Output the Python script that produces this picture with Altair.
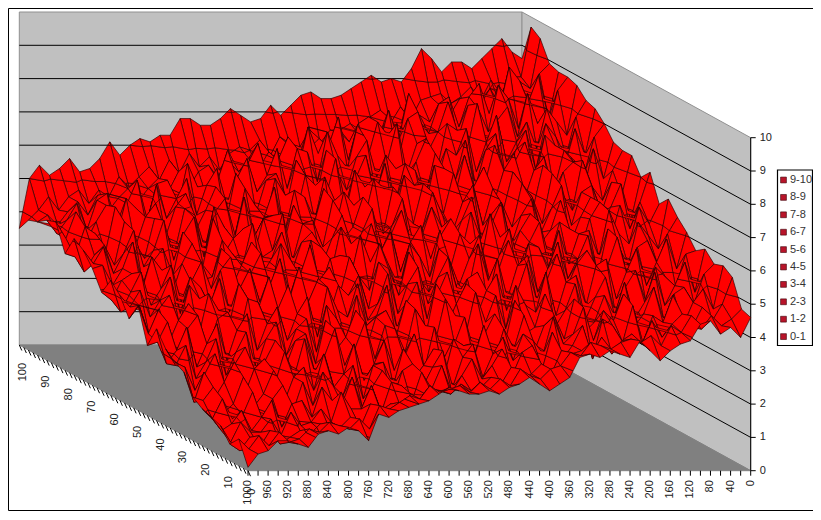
import altair as alt
import pandas as pd

# heights z, rows v = 100, 96 ... 0, columns u = 0, 20 ... 1000
Z = [
[8.6,8.8,9.2,8.9,8.6,8.3,8.5,8.5,8.2,8.6,8.9,8.3,7.9,8.0,7.9,8.1,7.9,7.7,7.5,7.4,7.4,7.6,7.5,7.2,6.9,7.2,6.8,6.7,6.9,7.1,6.8,6.6,6.6,6.8,6.8,6.3,6.3,6.1,6.2,6.0,5.7,6.1,5.6,5.3,5.2,5.6,5.3,5.1,5.4,5.0,3.5],
[9.7,8.2,8.2,7.7,8.1,7.5,7.9,7.6,7.4,7.7,7.6,7.5,6.9,7.3,6.8,7.2,7.0,6.6,6.8,6.6,6.6,6.2,6.6,6.1,6.2,6.4,5.8,6.3,6.0,6.1,5.9,5.4,5.8,5.5,5.9,5.3,5.7,5.1,5.5,5.2,4.9,5.2,4.6,4.8,4.4,4.8,4.6,4.2,4.6,4.2,3.9],
[9.5,8.0,8.2,7.9,7.5,8.0,7.5,7.3,7.7,7.2,7.5,7.0,7.2,7.1,6.7,7.1,6.6,6.9,6.6,6.4,6.7,6.2,6.5,6.2,5.9,6.3,5.8,6.1,5.6,5.9,5.5,5.8,5.3,5.7,5.5,5.0,5.5,4.9,5.3,5.0,4.6,5.0,4.7,4.3,4.8,4.2,4.6,4.3,3.9,4.2,4.0],
[8.9,8.6,7.6,8.4,8.8,7.5,7.4,8.3,7.9,7.0,7.9,7.7,6.8,7.2,8.0,6.6,7.5,6.4,7.3,7.1,6.0,7.3,6.4,6.2,7.0,5.7,6.7,6.0,5.4,6.5,5.9,5.0,6.3,5.4,4.8,5.2,5.9,4.5,5.4,5.3,4.2,5.4,4.7,4.1,5.0,4.8,3.9,4.7,4.2,3.8,4.2],
[8.8,7.4,8.7,7.9,7.1,8.0,8.4,7.0,7.7,7.8,6.8,7.9,7.0,6.4,7.6,7.4,6.1,6.9,7.3,6.2,7.2,5.9,6.3,7.0,5.5,6.4,6.5,5.3,6.5,5.7,5.2,6.2,5.6,4.8,5.9,5.4,4.5,5.6,5.0,4.4,5.4,4.2,4.7,5.0,3.8,4.8,4.3,3.7,4.6,3.8,4.3],
[8.8,8.4,7.2,7.4,8.3,7.0,7.9,7.5,6.6,8.0,6.6,7.2,7.4,6.0,6.9,6.8,5.9,7.4,6.2,5.8,6.9,6.4,5.4,6.0,6.6,5.2,5.8,6.3,4.9,5.9,5.7,4.7,5.3,5.9,4.4,5.5,4.8,4.2,5.3,4.9,4.0,5.0,4.6,3.7,4.2,4.9,3.5,4.1,4.3,3.4,3.5],
[8.7,7.2,7.6,8.0,6.8,7.6,7.0,6.4,7.8,7.0,6.1,7.4,6.6,6.8,5.7,7.1,6.4,5.7,6.2,6.6,5.4,6.6,5.9,5.1,6.5,5.3,5.7,6.0,4.7,5.4,5.9,4.6,5.1,5.6,4.2,5.3,4.9,3.8,4.8,5.0,3.7,4.4,4.7,3.5,4.0,4.6,3.3,3.9,3.6,3.1,4.1],
[8.4,7.9,6.7,7.3,7.7,6.3,7.5,6.9,6.0,7.4,6.9,5.8,7.2,6.0,6.1,6.8,5.5,6.3,6.5,5.3,6.5,5.5,5.8,6.3,4.9,5.4,6.1,4.8,5.5,5.7,4.4,5.8,4.9,4.3,5.5,4.2,4.6,5.2,3.7,4.9,4.4,3.6,4.8,3.9,3.4,4.5,3.8,3.2,4.0,3.5,3.9],
[8.3,6.9,7.7,6.6,7.2,7.5,6.1,7.3,6.7,5.9,7.2,6.0,5.9,6.9,5.6,6.5,6.6,5.2,6.0,6.3,5.0,5.9,6.2,4.9,5.4,5.8,4.5,5.9,4.8,4.6,5.4,4.2,5.1,5.0,3.8,4.7,4.4,3.9,5.0,3.6,3.9,4.6,3.3,4.1,3.7,3.0,4.3,3.5,3.0,3.6,3.5],
[8.0,7.6,6.5,6.9,7.2,6.0,7.0,6.6,5.7,7.1,6.6,5.6,6.7,6.1,5.4,6.5,5.3,5.7,6.2,5.0,5.3,6.1,4.7,5.2,5.8,4.9,4.5,5.7,4.3,5.1,5.0,3.9,5.3,4.2,4.0,5.0,3.7,4.1,4.5,3.4,3.3,4.4,3.8,2.9,3.6,4.0,3.0,3.5,3.3,2.7,2.94],
[7.6,6.5,7.4,6.1,7.0,6.7,5.8,6.9,5.6,6.3,6.7,5.5,6.2,5.1,6.3,5.8,4.9,5.4,6.1,5.0,4.7,5.9,5.1,4.4,5.6,4.9,4.2,5.4,4.7,3.9,4.9,4.6,3.7,4.9,4.1,3.6,4.6,3.9,3.2,4.4,3.2,4.0,3.4,2.8,3.9,3.2,2.7,3.7,3.1,2.5,3.45],
[7.5,6.9,6.0,6.4,7.2,5.7,6.2,6.8,5.3,6.1,6.5,5.2,5.9,5.6,4.7,6.1,5.4,4.6,5.2,5.8,4.9,4.4,5.7,5.0,4.1,5.3,4.3,4.7,5.2,3.8,4.6,4.8,3.5,4.2,4.7,3.3,4.4,3.8,3.1,4.3,3.9,2.8,3.4,3.7,2.6,3.7,3.0,2.5,3.3,2.8,3.15],
[7.5,6.3,6.7,5.8,6.6,6.4,5.4,6.6,5.9,5.2,6.2,5.7,4.8,6.1,5.4,5.0,5.8,4.5,5.6,5.1,4.4,5.4,4.9,4.0,5.2,4.6,4.3,5.1,3.8,4.5,4.4,3.5,4.8,3.9,3.3,4.4,3.6,3.1,4.1,3.5,2.8,3.8,3.0,3.2,3.6,2.4,3.3,2.9,2.1,3.0,2.6],
[7.0,5.7,6.8,6.1,5.5,6.4,5.8,5.0,6.3,5.4,5.0,5.9,5.4,4.6,5.2,5.9,4.3,5.0,5.3,4.2,5.4,4.0,4.6,5.0,3.7,4.3,5.0,3.6,4.0,4.6,3.4,4.3,3.9,3.0,4.3,3.3,2.8,4.0,3.1,3.3,3.8,2.5,3.0,3.5,2.2,3.2,2.7,2.0,3.0,2.3,3.15],
[7.3,6.4,5.6,6.3,5.2,6.4,5.9,4.9,5.6,5.8,4.7,5.8,5.2,4.5,5.6,4.8,4.1,5.4,4.7,3.9,4.7,5.0,3.7,4.1,4.9,3.6,4.4,4.6,3.2,4.2,3.6,3.9,2.9,4.1,3.4,2.7,3.9,3.2,2.7,3.4,3.5,2.2,3.1,2.9,2.0,3.0,2.6,1.8,2.8,2.2,2.1],
[6.5,5.9,6.4,5.3,5.6,6.3,4.9,5.7,5.6,4.7,5.7,4.6,5.2,5.3,4.1,5.4,4.5,4.2,5.3,3.9,3.8,4.9,4.3,3.5,4.6,4.1,3.2,4.4,3.5,3.0,4.1,3.1,3.3,4.0,2.5,3.7,3.2,2.4,3.4,2.9,2.1,3.2,2.7,1.8,2.9,2.3,1.6,2.8,2.1,1.7,2.75],
[6.8,5.3,5.7,6.1,4.8,5.4,5.9,4.5,5.7,5.0,4.4,5.5,4.7,4.0,5.1,4.8,3.8,5.0,3.7,4.6,4.4,3.4,4.6,3.9,3.2,4.3,3.7,2.9,4.2,3.3,3.0,3.9,2.5,3.2,3.6,2.2,3.2,2.9,2.1,3.1,2.6,1.7,2.8,2.2,1.5,2.6,1.9,1.4,2.4,1.8,2.3],
[6.4,5.9,5.0,5.7,5.5,4.7,5.8,4.9,4.5,5.4,5.0,4.3,5.3,4.5,3.9,5.0,4.1,3.6,4.7,4.2,3.4,4.4,3.8,3.1,4.4,2.9,3.6,3.9,2.8,3.6,3.4,2.4,3.6,2.8,2.4,3.3,2.0,2.9,2.7,1.9,2.7,2.1,1.4,2.5,2.0,1.3,2.3,1.7,1.2,1.9,2.05],
[6.1,5.0,5.9,5.2,4.5,5.6,4.9,4.1,5.3,5.1,3.9,4.8,4.6,3.6,4.9,3.7,3.9,4.5,3.2,4.2,3.4,4.3,3.0,3.6,4.1,2.8,3.3,3.8,2.5,3.2,3.3,2.3,3.4,2.6,2.1,3.2,2.4,1.9,2.9,1.8,2.5,1.5,2.3,2.0,1.2,2.2,1.6,1.1,1.9,1.0,1.9],
[5.7,5.6,4.6,4.9,5.2,4.2,5.1,4.6,3.8,4.9,4.3,3.6,4.7,3.9,3.4,4.4,3.4,3.2,4.2,2.9,3.8,3.2,2.6,3.7,2.9,2.5,3.4,2.1,3.2,2.5,2.1,3.0,2.3,1.8,2.9,2.0,1.6,2.6,1.5,2.2,1.9,1.1,2.1,1.4,1.0,1.9,1.1,0.8,1.6,1.2,1.3],
[5.9,4.6,5.5,4.8,4.2,5.2,4.3,3.8,4.9,3.9,4.5,3.7,3.4,4.4,3.2,3.9,3.6,2.8,3.9,2.9,3.5,2.5,3.6,2.6,3.0,3.2,2.0,2.9,2.4,2.0,2.9,1.8,2.5,2.4,1.4,2.4,1.5,1.8,2.2,1.2,1.9,1.0,1.8,1.4,0.7,1.6,0.9,0.8,1.4,0.8,1.1],
[5.6,5.3,4.4,4.9,4.7,3.9,4.9,4.1,3.7,4.7,3.9,4.2,3.3,4.3,3.5,3.2,4.0,2.9,3.3,3.5,2.7,3.4,2.9,2.2,3.2,2.8,1.9,3.0,2.5,1.9,2.6,2.4,1.5,2.4,1.9,1.3,2.2,1.4,1.5,1.9,1.0,1.5,1.4,0.7,1.5,1.0,0.6,1.2,0.8,0.6,1.0],
[5.7,4.4,5.0,4.6,3.9,4.8,4.0,4.2,3.4,4.5,3.4,3.9,4.1,2.9,3.9,3.3,2.9,3.7,2.6,3.3,3.1,2.4,3.2,2.7,2.3,2.9,2.4,1.9,2.7,2.0,2.5,1.6,2.1,2.2,1.3,2.1,1.4,1.4,1.9,1.0,1.4,1.0,0.9,1.3,0.6,1.1,0.7,0.7,1.0,0.4,0.9],
[5.5,4.7,4.2,4.6,4.0,4.4,4.1,3.7,4.2,3.5,3.8,3.6,3.2,3.7,3.2,3.3,3.2,3.3,2.6,2.9,2.6,2.4,2.8,2.3,2.5,2.2,2.1,2.3,2.0,2.1,2.1,1.9,2.0,1.6,1.7,1.5,1.7,1.0,1.3,1.0,0.9,1.1,0.8,0.9,0.7,0.5,0.9,0.4,0.7,0.3,0.5],
[4.7,4.4,4.2,4.5,4.1,4.5,4.0,4.2,3.6,3.9,3.7,3.8,3.7,3.5,3.6,3.7,3.3,3.4,3.0,2.9,2.6,2.7,2.9,2.4,2.6,2.3,2.5,2.2,2.4,2.3,2.2,2.4,2.0,2.1,1.9,1.7,1.8,1.1,1.4,1.1,1.2,1.3,1.0,1.1,0.8,0.7,1.0,0.6,0.9,0.5,0.8],
[4.6,4.0,4.3,4.1,4.5,4.4,3.9,3.8,3.6,3.3,3.6,3.9,3.4,3.5,3.6,3.4,3.5,3.4,2.8,2.6,2.4,2.6,2.8,2.6,2.5,2.3,2.4,2.3,2.3,2.4,2.5,2.3,2.1,2.0,1.9,1.8,1.6,1.7,0.9,1.2,1.3,1.1,1.2,1.1,0.7,0.8,0.9,0.9,0.6,0.5,0.1],
]
for r in Z:
    assert len(r) == 51, len(r)
assert len(Z) == 26

U = [20 * i for i in range(51)]
V = [100 - 4 * i for i in range(26)]
X_LABELS = list(range(0, 1001, 40))
DEPTH_LABELS = list(range(10, 101, 10))
Z_LEVELS = list(range(0, 11))
LEGEND = ["9-10", "8-9", "7-8", "6-7", "5-6", "4-5", "3-4", "2-3", "1-2", "0-1"]

SX = "750.7 - 0.5027*datum.u - 2.287*datum.v"
SY = "470.7 - 1.257*datum.v - 33.3*datum.z"
H = 503
W = 805

xs = alt.Scale(domain=[8, 8 + W], range=[0, W], nice=False, zero=False)
ys = alt.Scale(domain=[8, 8 + H], range=[0, H], nice=False, zero=False)
X = alt.X("sx:Q", scale=xs, axis=None)
Y = alt.Y("sy:Q", scale=ys, axis=None)
X2 = alt.X2("sx2:Q")
Y2 = alt.Y2("sy2:Q")


def projected(rows):
    return alt.Chart(alt.Data(values=rows)).transform_calculate(sx=SX, sy=SY)


def clip_band(poly, lo, hi):
    """Part of a cell between two value levels, cut along the cell's edges."""
    def clip(points, level, keep_above):
        out = []
        n = len(points)
        for i in range(n):
            a, b = points[i], points[(i + 1) % n]
            ina = a[2] >= level if keep_above else a[2] <= level
            inb = b[2] >= level if keep_above else b[2] <= level
            if ina:
                out.append(a)
            if ina != inb:
                t = (level - a[2]) / (b[2] - a[2])
                out.append((a[0] + t * (b[0] - a[0]), a[1] + t * (b[1] - a[1]), level))
        return out
    p = clip(poly, lo, True)
    if p:
        p = clip(p, hi, False)
    return p


# walls and floor
walls = [
    {"p": "back", "o": 0, "u": 1000, "v": 100, "z": 0},
    {"p": "back", "o": 1, "u": 1000, "v": 100, "z": 10},
    {"p": "back", "o": 2, "u": 0, "v": 100, "z": 10},
    {"p": "back", "o": 3, "u": 0, "v": 100, "z": 0},
    {"p": "side", "o": 0, "u": 0, "v": 100, "z": 0},
    {"p": "side", "o": 1, "u": 0, "v": 100, "z": 10},
    {"p": "side", "o": 2, "u": 0, "v": 0, "z": 10},
    {"p": "side", "o": 3, "u": 0, "v": 0, "z": 0},
]
floor = [
    {"p": "floor", "o": 0, "u": 1000, "v": 100, "z": 0},
    {"p": "floor", "o": 1, "u": 0, "v": 100, "z": 0},
    {"p": "floor", "o": 2, "u": 0, "v": 0, "z": 0},
    {"p": "floor", "o": 3, "u": 1000, "v": 0, "z": 0},
]
wall_layer = projected(walls).mark_line(
    interpolate="linear-closed", fill="#C0C0C0", stroke="#909090", strokeWidth=1
).encode(x=X, y=Y, detail="p:N", order="o:Q")
floor_layer = projected(floor).mark_line(
    interpolate="linear-closed", fill="#808080", stroke="#808080", strokeWidth=1
).encode(x=X, y=Y, detail="p:N", order="o:Q")

# grid lines along the two walls
grid = []
for k in Z_LEVELS[1:10]:
    grid += [
        {"k": k, "o": 0, "u": 1000, "v": 100, "z": k},
        {"k": k, "o": 1, "u": 0, "v": 100, "z": k},
        {"k": k, "o": 2, "u": 0, "v": 0, "z": k},
    ]
grid_layer = projected(grid).mark_line(stroke="#000000", strokeWidth=1).encode(
    x=X, y=Y, detail="k:N", order="o:Q"
)

# value axis
z_rows = [{"u": 0, "v": 0, "z": k} for k in Z_LEVELS]
z_axis = projected([{"o": 0, "u": 0, "v": 0, "z": 0}, {"o": 1, "u": 0, "v": 0, "z": 10}]).mark_line(
    stroke="#000000", strokeWidth=1).encode(x=X, y=Y, order="o:Q")
z_ticks = projected(z_rows).transform_calculate(sx2="datum.sx+5", sy2="datum.sy").mark_rule(
    stroke="#000000", strokeWidth=1).encode(x=X, y=Y, x2=X2, y2=Y2)
z_text = projected([{"u": 0, "v": 0, "z": k, "t": str(k)} for k in Z_LEVELS]).transform_calculate(
    tx="datum.sx+9").mark_text(align="left", baseline="middle", font="Liberation Sans", fontSize=11,
                               color="#222222").encode(
    x=alt.X("tx:Q", scale=xs, axis=None), y=Y, text="t:N")

# front axis
x_ticks = projected([{"u": u, "v": 0, "z": 0} for u in U]).transform_calculate(
    sx2="datum.sx", sy2="datum.sy+5").mark_rule(stroke="#000000", strokeWidth=1).encode(x=X, y=Y, x2=X2, y2=Y2)
x_text = projected([{"u": u, "v": 0, "z": 0, "t": str(u)} for u in X_LABELS]).transform_calculate(
    ty="datum.sy+9.5").mark_text(angle=270, align="right", baseline="middle", font="Liberation Sans",
                                 fontSize=11, color="#222222").encode(
    x=X, y=alt.Y("ty:Q", scale=ys, axis=None), text="t:N")

# depth axis
d_ticks = projected([{"u": 1000, "v": 2 * i, "z": 0} for i in range(51)]).transform_calculate(
    sx2="datum.sx+2.5", sy2="datum.sy+5.5").mark_rule(stroke="#000000", strokeWidth=1).encode(x=X, y=Y, x2=X2, y2=Y2)
d_text = projected([{"u": 1000, "v": v, "z": 0, "t": str(v)} for v in DEPTH_LABELS + [0]]).transform_calculate(
    tx="datum.sx+4", ty="datum.sy+18").mark_text(angle=270, align="right", baseline="middle", font="Liberation Sans",
                                                  fontSize=11, color="#222222").encode(
    x=alt.X("tx:Q", scale=xs, axis=None), y=alt.Y("ty:Q", scale=ys, axis=None), text="t:N")

# surface, far cells first, each cell cut into its value bands
cells = []
cid = 0
for r in range(25):
    for c in range(50):
        quad = [(U[cc], V[rr], Z[rr][cc]) for rr, cc in [(r, c), (r, c + 1), (r + 1, c + 1), (r + 1, c)]]
        for k in Z_LEVELS[:-1]:
            part = clip_band(quad, k, k + 1)
            if len(part) >= 3:
                for o, (u, v, z) in enumerate(part):
                    cells.append({"cid": cid, "o": o, "u": round(u, 2), "v": round(v, 3), "z": round(z, 3)})
                cid += 1
surface = projected(cells).mark_line(
    interpolate="linear-closed", fill="#FF0000", stroke="#2a0000", strokeWidth=0.65, strokeJoin="bevel"
).encode(x=X, y=Y, detail="cid:N", order="o:Q")

# legend
leg = pd.DataFrame({"t": LEGEND, "i": range(len(LEGEND))})
lbox = alt.Chart(alt.Data(values=[{"a": 777.5, "b": 812.5, "c": 170, "d": 345.5}])).mark_rect(
    fill="#FFFFFF", stroke="#000000", strokeWidth=1.2).encode(
    x=alt.X("a:Q", scale=xs, axis=None), x2="b:Q", y=alt.Y("c:Q", scale=ys, axis=None), y2="d:Q")
lsq = alt.Chart(leg).transform_calculate(ly="180+17.4*datum.i", lx="783.5").mark_point(
    shape="square", size=34, filled=True, fill="#B8142A", stroke="#3a0008", strokeWidth=0.6, opacity=1).encode(
    x=alt.X("lx:Q", scale=xs, axis=None), y=alt.Y("ly:Q", scale=ys, axis=None))
ltx = alt.Chart(leg).transform_calculate(ly="180+17.4*datum.i", lx="790").mark_text(
    align="left", baseline="middle", font="Liberation Sans", fontSize=11, color="#333333").encode(
    x=alt.X("lx:Q", scale=xs, axis=None), y=alt.Y("ly:Q", scale=ys, axis=None), text="t:N")

# chart frame: left, top and bottom sides
frame_rows = [
    {"a": 8.5, "b": 8.5, "c": 8.5, "d": 8 + H - 0.5},
    {"a": 8.5, "b": 813, "c": 8.5, "d": 8.5},
    {"a": 8.5, "b": 813, "c": 8 + H - 0.5, "d": 8 + H - 0.5},
]
frame = alt.Chart(alt.Data(values=frame_rows)).mark_rule(stroke="#000000", strokeWidth=1).encode(
    x=alt.X("a:Q", scale=xs, axis=None), x2="b:Q", y=alt.Y("c:Q", scale=ys, axis=None), y2="d:Q")

chart = alt.layer(
    frame, wall_layer, floor_layer, grid_layer, z_axis, z_ticks, z_text,
    x_ticks, x_text, d_ticks, d_text, surface, lbox, lsq, ltx
).properties(width=W, height=H, padding=0, autosize=alt.AutoSizeParams(type="none"), background="#FFFFFF"
).configure_view(stroke=None)

chart.save("out.html", embed_options={"renderer": "svg", "actions": False})
